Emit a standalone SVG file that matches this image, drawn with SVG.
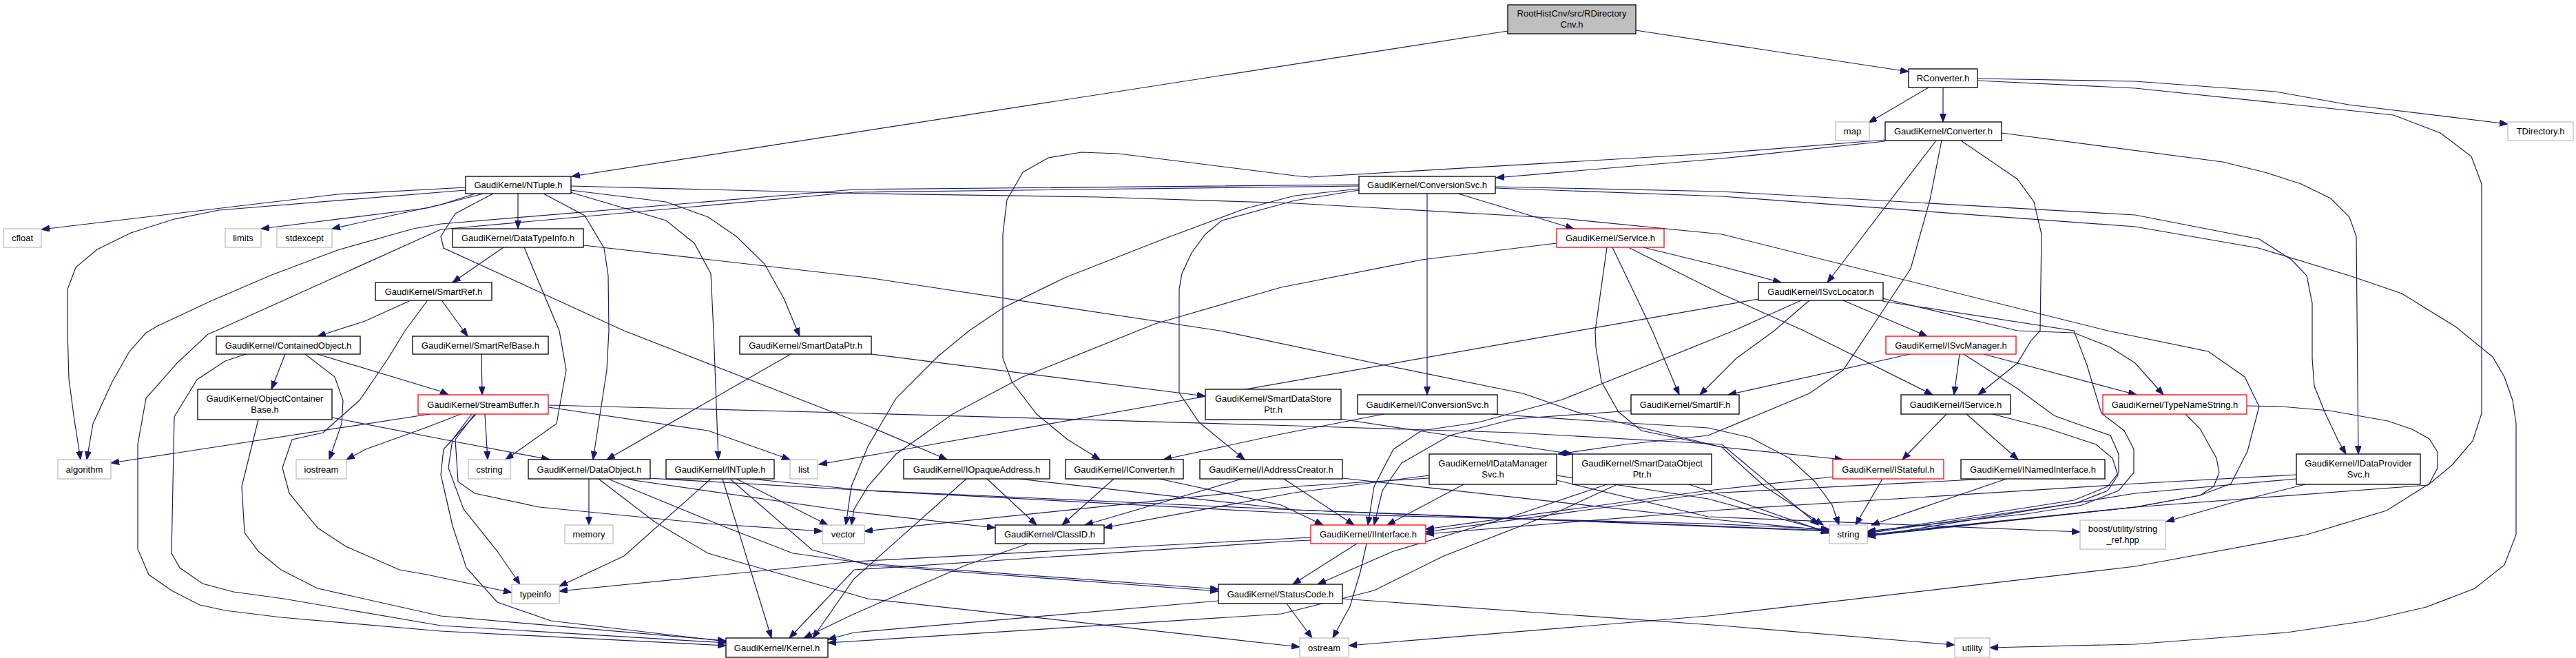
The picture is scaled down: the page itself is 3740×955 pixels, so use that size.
<svg xmlns="http://www.w3.org/2000/svg" width="3740" height="955" viewBox="0 0 3740 955">
<style>
.n rect{fill:#fff;stroke:#000;stroke-width:1.3}
.r rect{stroke:#f00}
.g rect{stroke:#bfbfbf}
.root rect{fill:#bfbfbf}
text{font-family:"Liberation Sans",Arial,sans-serif;font-size:13px;fill:#000;text-anchor:middle}
#edges path{fill:none;stroke:#191970;stroke-width:1.2;marker-end:url(#a)}
</style>
<defs>
<marker id="a" markerUnits="userSpaceOnUse" markerWidth="13" markerHeight="10" refX="12" refY="4.5" orient="auto"><path d="M0,0 L12,4.5 L0,9 z" fill="#191970" stroke="#191970" stroke-width="1"/></marker>
</defs>
<rect width="3740" height="955" fill="#fff"/>
<g id="edges">
<path d="M2189,45 L830,256"/>
<path d="M2375,44 L2771,104"/>
<path d="M2800,127 L2713,178"/>
<path d="M2821,127 L2821,177"/>
<path d="M2871,114 L3100,118 L3304,133 L3410,152 L3641,180"/>
<path d="M2871,117 L3100,128 L3475,167 L3543,193 L3588,227 L3603,267 L3603,600 L3590,640 L3560,675 L3525,704 L3100,736 L2711,776"/>
<path d="M2737,205 L2500,230 L2172,258"/>
<path d="M2737,203 L2500,222 L1901,257 L1880,255 L1624,223 L1570,221 L1522,229 L1485,250 L1462,290 L1456,340 L1456,520 L1469,554 L1505,601 L1550,638 L1597,667"/>
<path d="M2811,204 L2653,410"/>
<path d="M2847,204 L2929,260 L2953,293 L2964,340 L2962,480 L2949,494 L2929,527 L2872,573"/>
<path d="M2906,193 L3227,235 L3288,250 L3341,267 L3384,288 L3411,315 L3421,343 L3424,659"/>
<path d="M2819,204 L2802,290 L2774,390 L2721,470 L2676,537 L2627,571 L2480,632 L2360,645 L2262,659"/>
<path d="M676,272 L490,282 L60,333"/>
<path d="M676,276 L318,305 L253,318 L190,338 L141,362 L110,388 L98,420 L98,480 L100,550 L108,610 L117,667"/>
<path d="M702,281 L620,302 L379,332"/>
<path d="M690,281 L640,297 L482,332"/>
<path d="M752,281 L752,332"/>
<path d="M789,281 L849,313 L877,360 L883,400 L884,480 L881,537 L861,667"/>
<path d="M828,279 L967,320 L1008,353 L1032,397 L1036,480 L1043,667"/>
<path d="M828,276 L967,293 L1028,315 L1069,343 L1110,383 L1138,433 L1161,488"/>
<path d="M716,281 L661,310 L640,343 L644,360 L906,480 L1260,618 L1375,667"/>
<path d="M829,270 L1260,281 L1595,286 L1880,295 L2268,317 L2500,340 L3060,480 L3206,510 L3259,547 L3280,590 L3263,655 L3239,702 L3194,719 L3100,736 L2711,778"/>
<path d="M1973,268 L1240,275 L640,325 L600,332 L490,363 L392,400 L306,437 L229,473 L212,483 L188,510 L163,554 L135,615 L126,667"/>
<path d="M1973,270 L1240,279 L640,333 L314,480 L302,485 L257,527 L212,578 L200,645 L200,797 L216,834 L249,857 L290,878 L327,886 L408,896 L640,916 L1054,937"/>
<path d="M1973,276 L1880,291 L1774,320 L1750,340 L1730,367 L1716,397 L1712,420 L1712,570 L1741,613 L1807,667"/>
<path d="M1973,274 L1880,284 L1807,303 L1689,347 L1546,403 L1456,447 L1407,480 L1362,517 L1301,578 L1260,648 L1236,706 L1228,762"/>
<path d="M2117,281 L2285,332"/>
<path d="M2072,281 L2072,573"/>
<path d="M2171,271 L2500,278 L3100,312 L3280,347 L3327,377 L3349,400 L3357,440 L3357,520 L3360,560 L3376,600 L3395,640 L3406,659"/>
<path d="M2171,273 L2500,285 L3100,329 L3279,360 L3414,401 L3487,426 L3565,474 L3619,518 L3636,547 L3648,581 L3653,615 L3653,776 L3636,820 L3593,854 L3523,881 L3436,901 L3320,918 L3100,935 L2889,940"/>
<path d="M731,359 L657,410"/>
<path d="M761,359 L812,480 L822,537 L808,615 L734,667"/>
<path d="M847,356 L1260,403 L1771,480 L2015,531 L2211,571 L2289,598 L2500,649 L2521,669 L2562,706 L2647,762"/>
<path d="M2386,359 L2500,387 L2586,410"/>
<path d="M2366,360 L2500,427 L2619,480 L2806,573"/>
<path d="M2341,359 L2399,480 L2438,573"/>
<path d="M2333,359 L2316,480 L2317,504 L2325,554 L2350,598 L2383,625 L2500,649 L2676,667"/>
<path d="M2260,353 L2064,377 L1860,417 L1677,470 L1485,547 L1383,601 L1301,659 L1260,706 L1240,739 L1236,762"/>
<path d="M2676,436 L2798,488"/>
<path d="M2627,436 L2576,480 L2521,520 L2468,573"/>
<path d="M2615,436 L2517,480 L2480,495 L2268,580 L2146,613 L2064,625 L2023,652 L1995,706 L1986,762"/>
<path d="M2553,434 L1189,674"/>
<path d="M2733,433 L2929,480 L3011,483 L3064,504 L3100,527 L3141,573"/>
<path d="M2733,437 L3011,480 L3030,530 L3051,600 L3084,625 L3098,652 L3098,686 L3076,712 L3023,733 L2941,746 L2711,771"/>
<path d="M2845,514 L2837,573"/>
<path d="M2773,514 L2509,573"/>
<path d="M2880,514 L3102,573"/>
<path d="M2851,514 L2929,564 L2982,603 L3015,615 L3064,632 L3076,659 L3076,686 L3060,706 L3011,726 L2711,773"/>
<path d="M3173,601 L3194,622 L3218,665 L3222,686 L3214,706 L3194,719 L3100,736 L2711,777"/>
<path d="M3262,589 L3312,590 L3382,596 L3467,611 L3502,623 L3527,637 L3539,656 L3539,679 L3527,702 L3465,741 L3349,776 L3100,822 L2480,894 L1958,937"/>
<path d="M2826,601 L2762,667"/>
<path d="M2855,601 L2930,667"/>
<path d="M2893,601 L2970,621 L3043,645 L3067,665 L3075,690 L3060,712 L3015,730 L2711,774"/>
<path d="M2661,692 L2480,712 L2070,768"/>
<path d="M2733,695 L2694,762"/>
<path d="M2886,695 L2480,716 L2070,772"/>
<path d="M2913,695 L2717,762"/>
<path d="M2009,601 L1860,630 L1689,667"/>
<path d="M2166,601 L2300,610 L2480,621 L2541,635 L2598,665 L2635,699 L2660,733 L2670,762"/>
<path d="M2368,596 L2199,608 L2105,632 L2035,672 L2007,712 L1995,762"/>
<path d="M1946,608 L2283,659"/>
<path d="M2125,703 L2014,762"/>
<path d="M2075,690 L1880,715 L1603,766"/>
<path d="M2075,694 L1880,706 L1255,771"/>
<path d="M2260,690 L2480,724 L2656,772"/>
<path d="M2260,697 L2480,750 L3020,772"/>
<path d="M2333,703 L2206,746 L2023,800 L1913,848"/>
<path d="M2348,703 L2268,740 L2096,807 L1995,857 L1860,891 L1202,933"/>
<path d="M2452,703 L2500,719 L2656,774"/>
<path d="M3334,689 L3100,702 L2500,740 L2070,775"/>
<path d="M3334,695 L3100,716 L2711,779"/>
<path d="M3347,703 L3243,729 L3145,757"/>
<path d="M1970,789 L1877,848"/>
<path d="M1984,789 L1975,830 L1960,880 L1935,926"/>
<path d="M1903,784 L1880,785 L1240,827 L1146,926"/>
<path d="M1903,780 L1240,815 L812,858"/>
<path d="M1769,872 L1240,918 L1202,928"/>
<path d="M1868,876 L1905,926"/>
<path d="M1949,869 L2500,908 L2838,936"/>
<path d="M855,695 L855,762"/>
<path d="M906,695 L1240,743 L1445,766"/>
<path d="M885,696 L1048,763 L1151,803 L1260,818 L1769,855"/>
<path d="M869,695 L950,757 L1028,803 L1260,869 L1887,939"/>
<path d="M906,692 L1260,712 L1880,745 L2480,760 L2656,768"/>
<path d="M1032,695 L906,807 L812,851"/>
<path d="M1049,695 L1120,926"/>
<path d="M1069,695 L1202,762"/>
<path d="M1061,696 L1179,798 L1260,820 L1769,858"/>
<path d="M1089,695 L1260,712 L1880,740 L2656,770"/>
<path d="M1433,695 L1505,762"/>
<path d="M1403,695 L1240,840 L1180,926"/>
<path d="M1479,695 L1880,740 L2656,771"/>
<path d="M1617,695 L1542,762"/>
<path d="M1683,695 L1860,733 L1921,762"/>
<path d="M1803,695 L1575,762"/>
<path d="M1864,695 L1966,762"/>
<path d="M1949,694 L2500,755 L2656,770"/>
<path d="M1493,789 L1403,820 L1240,891 L1167,926"/>
<path d="M594,437 L530,466 L461,488"/>
<path d="M642,437 L679,488"/>
<path d="M620,437 L588,480 L563,521 L522,581 L469,628 L424,638 L410,679 L420,716 L461,766 L502,793 L580,827 L620,834 L743,860"/>
<path d="M414,514 L394,565"/>
<path d="M461,514 L640,568 L651,573"/>
<path d="M443,514 L486,547 L498,581 L496,615 L478,667"/>
<path d="M357,514 L327,524 L286,551 L253,605 L249,803 L261,824 L294,847 L339,859 L412,869 L640,908 L1054,933"/>
<path d="M699,514 L700,573"/>
<path d="M1148,514 L881,667"/>
<path d="M1265,514 L1750,575"/>
<path d="M482,606 L640,637 L798,667"/>
<path d="M375,609 L351,706 L355,773 L375,800 L408,827 L461,854 L640,894 L1054,930"/>
<path d="M624,601 L161,672"/>
<path d="M669,601 L620,620 L531,652 L503,667"/>
<path d="M704,601 L708,667"/>
<path d="M796,591 L1028,625 L1147,667"/>
<path d="M796,588 L1260,600 L1880,618 L2200,628 L2500,645 L2640,762"/>
<path d="M689,601 L661,638 L665,699 L689,716 L783,736 L1028,760 L1194,771"/>
<path d="M685,601 L657,638 L651,679 L673,739 L722,800 L755,848"/>
<path d="M691,601 L644,652 L640,689 L657,763 L677,824 L722,874 L800,901 L1054,931"/>
</g>
<g id="n1" class="n root"><rect x="2189" y="7" width="186" height="42"/><text x="2282" y="24">RootHistCnv/src/RDirectory</text><text x="2282" y="40">Cnv.h</text></g>
<g id="n2" class="n"><rect x="2771" y="100" width="100" height="27"/><text x="2821" y="118">RConverter.h</text></g>
<g id="n3" class="n g"><rect x="2665" y="177" width="49" height="27"/><text x="2689.5" y="195">map</text></g>
<g id="n4" class="n"><rect x="2737" y="177" width="169" height="27"/><text x="2821.5" y="195">GaudiKernel/Converter.h</text></g>
<g id="n5" class="n g"><rect x="3641" y="177" width="95" height="27"/><text x="3688.5" y="195">TDirectory.h</text></g>
<g id="n6" class="n"><rect x="676" y="256" width="153" height="25"/><text x="752.5" y="273">GaudiKernel/NTuple.h</text></g>
<g id="n7" class="n"><rect x="1973" y="256" width="198" height="25"/><text x="2072" y="273">GaudiKernel/ConversionSvc.h</text></g>
<g id="n8" class="n g"><rect x="5" y="332" width="55" height="27"/><text x="32.5" y="350">cfloat</text></g>
<g id="n9" class="n g"><rect x="327" y="332" width="52" height="27"/><text x="353" y="350">limits</text></g>
<g id="n10" class="n g"><rect x="402" y="332" width="80" height="27"/><text x="442" y="350">stdexcept</text></g>
<g id="n11" class="n"><rect x="657" y="332" width="190" height="27"/><text x="752" y="350">GaudiKernel/DataTypeInfo.h</text></g>
<g id="n12" class="n r"><rect x="2260" y="332" width="156" height="27"/><text x="2338" y="350">GaudiKernel/Service.h</text></g>
<g id="n13" class="n"><rect x="545" y="410" width="169" height="26"/><text x="629.5" y="427.5">GaudiKernel/SmartRef.h</text></g>
<g id="n14" class="n"><rect x="2553" y="410" width="181" height="26"/><text x="2643.5" y="427.5">GaudiKernel/ISvcLocator.h</text></g>
<g id="n15" class="n"><rect x="314" y="488" width="209" height="26"/><text x="418.5" y="505.5">GaudiKernel/ContainedObject.h</text></g>
<g id="n16" class="n"><rect x="599" y="488" width="197" height="26"/><text x="697.5" y="505.5">GaudiKernel/SmartRefBase.h</text></g>
<g id="n17" class="n"><rect x="1074" y="488" width="191" height="26"/><text x="1169.5" y="505.5">GaudiKernel/SmartDataPtr.h</text></g>
<g id="n18" class="n r"><rect x="2738" y="488" width="189" height="26"/><text x="2832.5" y="505.5">GaudiKernel/ISvcManager.h</text></g>
<g id="n19" class="n"><rect x="287" y="565" width="195" height="44"/><text x="384.5" y="583">GaudiKernel/ObjectContainer</text><text x="384.5" y="599">Base.h</text></g>
<g id="n20" class="n r"><rect x="607" y="573" width="189" height="28"/><text x="701.5" y="591.5">GaudiKernel/StreamBuffer.h</text></g>
<g id="n21" class="n"><rect x="1750" y="565" width="197" height="44"/><text x="1848.5" y="583">GaudiKernel/SmartDataStore</text><text x="1848.5" y="599">Ptr.h</text></g>
<g id="n22" class="n"><rect x="1971" y="573" width="203" height="28"/><text x="2072.5" y="591.5">GaudiKernel/IConversionSvc.h</text></g>
<g id="n23" class="n"><rect x="2368" y="573" width="157" height="28"/><text x="2446.5" y="591.5">GaudiKernel/SmartIF.h</text></g>
<g id="n24" class="n"><rect x="2760" y="573" width="159" height="28"/><text x="2839.5" y="591.5">GaudiKernel/IService.h</text></g>
<g id="n25" class="n r"><rect x="3053" y="573" width="209" height="28"/><text x="3157.5" y="591.5">GaudiKernel/TypeNameString.h</text></g>
<g id="n26" class="n g"><rect x="84" y="667" width="77" height="28"/><text x="122.5" y="685.5">algorithm</text></g>
<g id="n27" class="n g"><rect x="430" y="667" width="73" height="28"/><text x="466.5" y="685.5">iostream</text></g>
<g id="n28" class="n g"><rect x="680" y="667" width="61" height="28"/><text x="710.5" y="685.5">cstring</text></g>
<g id="n29" class="n"><rect x="767" y="667" width="177" height="28"/><text x="855.5" y="685.5">GaudiKernel/DataObject.h</text></g>
<g id="n30" class="n"><rect x="967" y="667" width="157" height="28"/><text x="1045.5" y="685.5">GaudiKernel/INTuple.h</text></g>
<g id="n31" class="n g"><rect x="1147" y="667" width="40" height="28"/><text x="1167" y="685.5">list</text></g>
<g id="n32" class="n"><rect x="1312" y="667" width="212" height="28"/><text x="1418" y="685.5">GaudiKernel/IOpaqueAddress.h</text></g>
<g id="n33" class="n"><rect x="1547" y="667" width="171" height="28"/><text x="1632.5" y="685.5">GaudiKernel/IConverter.h</text></g>
<g id="n34" class="n"><rect x="1742" y="667" width="207" height="28"/><text x="1845.5" y="685.5">GaudiKernel/IAddressCreator.h</text></g>
<g id="n35" class="n"><rect x="2075" y="659" width="185" height="44"/><text x="2167.5" y="677">GaudiKernel/IDataManager</text><text x="2167.5" y="693">Svc.h</text></g>
<g id="n36" class="n"><rect x="2283" y="659" width="202" height="44"/><text x="2384" y="677">GaudiKernel/SmartDataObject</text><text x="2384" y="693">Ptr.h</text></g>
<g id="n37" class="n r"><rect x="2661" y="667" width="161" height="28"/><text x="2741.5" y="685.5">GaudiKernel/IStateful.h</text></g>
<g id="n38" class="n"><rect x="2847" y="667" width="209" height="28"/><text x="2951.5" y="685.5">GaudiKernel/INamedInterface.h</text></g>
<g id="n39" class="n"><rect x="3334" y="659" width="180" height="44"/><text x="3424" y="677">GaudiKernel/IDataProvider</text><text x="3424" y="693">Svc.h</text></g>
<g id="n40" class="n g"><rect x="820" y="762" width="70" height="27"/><text x="855" y="780">memory</text></g>
<g id="n41" class="n g"><rect x="1194" y="762" width="61" height="27"/><text x="1224.5" y="780">vector</text></g>
<g id="n42" class="n"><rect x="1445" y="762" width="158" height="27"/><text x="1524" y="780">GaudiKernel/ClassID.h</text></g>
<g id="n43" class="n r"><rect x="1903" y="762" width="167" height="27"/><text x="1986.5" y="780">GaudiKernel/IInterface.h</text></g>
<g id="n44" class="n g"><rect x="2656" y="762" width="55" height="27"/><text x="2683.5" y="780">string</text></g>
<g id="n45" class="n g"><rect x="3020" y="755" width="124" height="42"/><text x="3082" y="772">boost/utility/string</text><text x="3082" y="788">_ref.hpp</text></g>
<g id="n46" class="n g"><rect x="743" y="848" width="69" height="28"/><text x="777.5" y="866.5">typeinfo</text></g>
<g id="n47" class="n"><rect x="1769" y="848" width="180" height="28"/><text x="1859" y="866.5">GaudiKernel/StatusCode.h</text></g>
<g id="n48" class="n"><rect x="1054" y="926" width="148" height="28"/><text x="1128" y="944.5">GaudiKernel/Kernel.h</text></g>
<g id="n49" class="n g"><rect x="1887" y="926" width="71" height="28"/><text x="1922.5" y="944.5">ostream</text></g>
<g id="n50" class="n g"><rect x="2838" y="926" width="51" height="28"/><text x="2863.5" y="944.5">utility</text></g>
</svg>
